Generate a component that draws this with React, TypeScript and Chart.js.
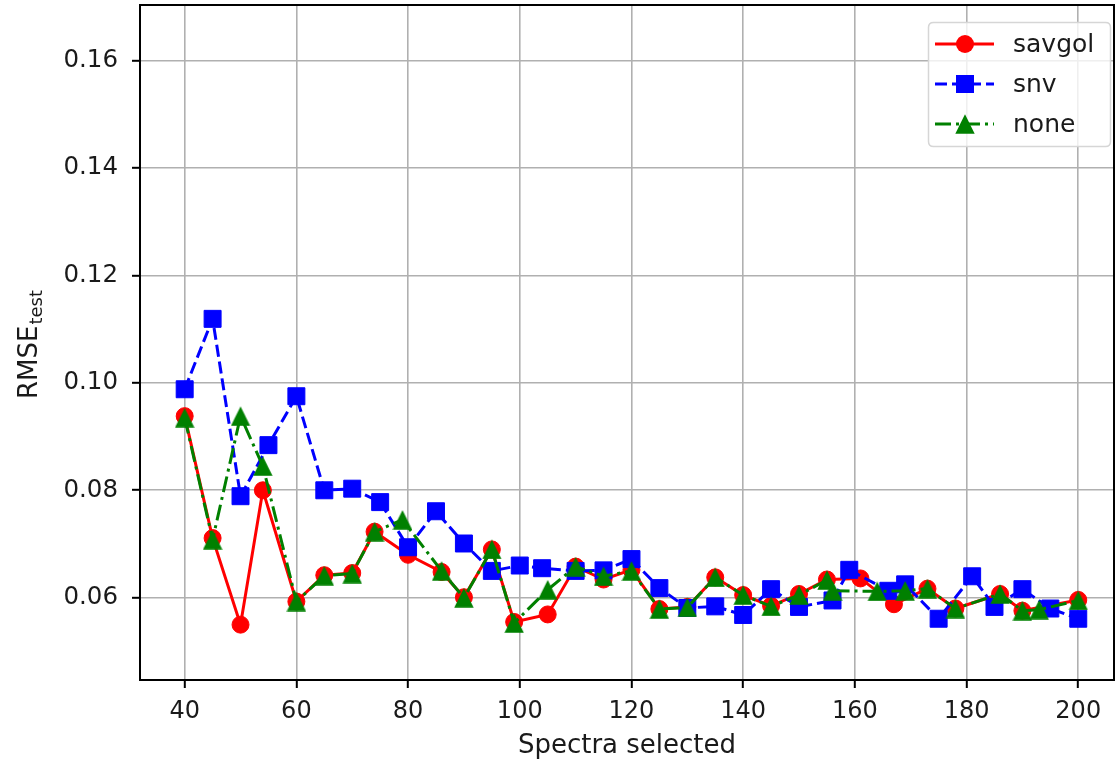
import React, { useEffect, useRef } from "react";
import { Chart, registerables } from "chart.js";

Chart.register(...registerables);

// ---- data ----
const savgolX = [40, 45, 50, 54, 60, 65, 70, 74, 80, 86, 90, 95, 99, 105, 110, 115, 120, 125, 130, 135, 140, 145, 150, 155, 161, 167, 173, 178, 186, 190, 200];
const savgolY = [0.0938, 0.0711, 0.0550, 0.0800, 0.0593, 0.0642, 0.0646, 0.0723, 0.0680, 0.0648, 0.0601, 0.0690, 0.0555, 0.0569, 0.0658, 0.0634, 0.0652, 0.0579, 0.0583, 0.0638, 0.0605, 0.0585, 0.0607, 0.0634, 0.0636, 0.0588, 0.0617, 0.0580, 0.0607, 0.0576, 0.0596];

const snvX = [40, 45, 50, 55, 60, 65, 70, 75, 80, 85, 90, 95, 100, 104, 110, 115, 120, 125, 130, 135, 140, 145, 150, 156, 159, 166, 169, 175, 181, 185, 190, 195, 200];
const snvY = [0.0988, 0.1119, 0.0789, 0.0884, 0.0975, 0.0800, 0.0803, 0.0778, 0.0694, 0.0761, 0.0701, 0.0650, 0.0660, 0.0655, 0.0650, 0.0651, 0.0672, 0.0618, 0.0581, 0.0584, 0.0568, 0.0616, 0.0583, 0.0595, 0.0652, 0.0613, 0.0625, 0.0561, 0.0640, 0.0583, 0.0616, 0.0580, 0.0561];

const noneX = [40, 45, 50, 54, 60, 65, 70, 74, 79, 86, 90, 95, 99, 105, 110, 115, 120, 125, 130, 135, 140, 145, 150, 155, 156, 164, 169, 173, 178, 186, 190, 193, 200];
const noneY = [0.0935, 0.0708, 0.0938, 0.0845, 0.0593, 0.0641, 0.0645, 0.0723, 0.0745, 0.0650, 0.0600, 0.0690, 0.0553, 0.0615, 0.0658, 0.0640, 0.0650, 0.0579, 0.0582, 0.0638, 0.0605, 0.0584, 0.0605, 0.0633, 0.0613, 0.0612, 0.0613, 0.0617, 0.0580, 0.0607, 0.0576, 0.0578, 0.0595];

const seriesNames = ["savgol", "snv", "none"];
const xTicks = [40, 60, 80, 100, 120, 140, 160, 180, 200];
const yTicks = [0.06, 0.08, 0.1, 0.12, 0.14, 0.16];
const xTitle = "Spectra selected";
const yTitleMain = "RMSE";
const yTitleSub = "test";

const FONT = "'DejaVu Sans', sans-serif";
const TEXT = "#1a1a1a";
const RED = "#ff0000";
const BLUE = "#0000ff";
const GREEN = "#008000";
const LW = 3;
const DASH_SNV = [12, 5];
const DASH_NONE = [16, 5, 3, 5];

function makeTriangle(color: string, size: number) {
  const c = document.createElement("canvas");
  c.width = size;
  c.height = size;
  const g = c.getContext("2d")!;
  g.fillStyle = color;
  g.beginPath();
  g.moveTo(size / 2, 0.3);
  g.lineTo(size - 0.3, size - 0.3);
  g.lineTo(0.3, size - 0.3);
  g.closePath();
  g.fill();
  return c;
}

function zeroPad(s: any) {
  s.paddingTop = 0;
  s.paddingBottom = 0;
  s.paddingLeft = 0;
  s.paddingRight = 0;
}

export default function App() {
  const ref = useRef<HTMLCanvasElement>(null);

  useEffect(() => {
    const tri = makeTriangle(GREEN, 20);
    const toPts = (xs: number[], ys: number[]) => xs.map((x, i) => ({ x, y: ys[i] }));

    const framePlugin = {
      id: "frameAndExtras",
      afterDatasetsDraw(chart: any) {
        const { ctx, chartArea: a } = chart;
        ctx.save();
        ctx.strokeStyle = "#000";
        ctx.lineWidth = 2;
        ctx.strokeRect(a.left, a.top, a.right - a.left, a.bottom - a.top);
        ctx.restore();
      },
      afterDraw(chart: any) {
        const ctx = chart.ctx as CanvasRenderingContext2D;
        // y-axis title with subscript
        ctx.save();
        ctx.translate(37, 345);
        ctx.rotate(-Math.PI / 2);
        ctx.fillStyle = TEXT;
        ctx.textBaseline = "alphabetic";
        ctx.textAlign = "left";
        ctx.font = `26px ${FONT}`;
        const w1 = ctx.measureText(yTitleMain).width;
        ctx.font = `18px ${FONT}`;
        const w2 = ctx.measureText(yTitleSub).width;
        const start = -(w1 + w2) / 2;
        ctx.font = `26px ${FONT}`;
        ctx.fillText(yTitleMain, start, 0);
        ctx.font = `18px ${FONT}`;
        ctx.fillText(yTitleSub, start + w1 + 1, 5);
        ctx.restore();

        // legend
        ctx.save();
        const bx = 928.5, by = 22.5, bw = 182, bh = 124, r = 5;
        ctx.beginPath();
        ctx.moveTo(bx + r, by);
        ctx.lineTo(bx + bw - r, by);
        ctx.quadraticCurveTo(bx + bw, by, bx + bw, by + r);
        ctx.lineTo(bx + bw, by + bh - r);
        ctx.quadraticCurveTo(bx + bw, by + bh, bx + bw - r, by + bh);
        ctx.lineTo(bx + r, by + bh);
        ctx.quadraticCurveTo(bx, by + bh, bx, by + bh - r);
        ctx.lineTo(bx, by + r);
        ctx.quadraticCurveTo(bx, by, bx + r, by);
        ctx.closePath();
        ctx.fillStyle = "rgba(255,255,255,0.8)";
        ctx.fill();
        ctx.strokeStyle = "#d6d6d6";
        ctx.lineWidth = 1.5;
        ctx.stroke();

        const colors = [RED, BLUE, GREEN];
        const dashes = [[], DASH_SNV, DASH_NONE];
        seriesNames.forEach((name, i) => {
          const y = 44 + i * 40;
          ctx.strokeStyle = colors[i];
          ctx.lineWidth = LW;
          ctx.setLineDash(dashes[i]);
          ctx.beginPath();
          ctx.moveTo(935, y);
          ctx.lineTo(994, y);
          ctx.stroke();
          ctx.setLineDash([]);
          ctx.fillStyle = colors[i];
          if (i === 0) {
            ctx.beginPath();
            ctx.arc(965, y, 9, 0, Math.PI * 2);
            ctx.fill();
          } else if (i === 1) {
            ctx.fillRect(965 - 9, y - 9, 18, 18);
          } else {
            ctx.drawImage(tri, 965 - 10, y - 10, 20, 20);
          }
          ctx.fillStyle = TEXT;
          ctx.font = `25px ${FONT}`;
          ctx.textBaseline = "middle";
          ctx.textAlign = "left";
          ctx.fillText(name, 1013, y + 1);
        });
        ctx.restore();
      },
    };

    const chart = new Chart(ref.current!, {
      type: "scatter",
      data: {
        datasets: [
          {
            label: seriesNames[0],
            data: toPts(savgolX, savgolY),
            showLine: true,
            borderColor: RED,
            backgroundColor: RED,
            borderWidth: LW,
            pointStyle: "circle",
            pointRadius: 8.5,
            pointBorderWidth: 1,
            pointBorderColor: RED,
            pointBackgroundColor: RED,
            order: 2,
          },
          {
            label: seriesNames[1],
            data: toPts(snvX, snvY),
            showLine: true,
            borderColor: BLUE,
            backgroundColor: BLUE,
            borderWidth: LW,
            borderDash: DASH_SNV,
            pointStyle: "rect",
            pointRadius: 12,
            pointBorderWidth: 1,
            pointBorderColor: BLUE,
            pointBackgroundColor: BLUE,
            order: 1,
          },
          {
            label: seriesNames[2],
            data: toPts(noneX, noneY),
            showLine: true,
            borderColor: GREEN,
            backgroundColor: GREEN,
            borderWidth: LW,
            borderDash: DASH_NONE,
            pointStyle: tri as any,
            pointRadius: 10,
            pointBorderWidth: 0,
            order: 0,
          },
        ] as any,
      },
      options: {
        animation: false,
        responsive: false,
        devicePixelRatio: 1,
        layout: { autoPadding: false, padding: { top: 5, right: 2, left: 0, bottom: 0 } },
        plugins: {
          legend: { display: false },
          tooltip: { enabled: false },
        },
        scales: {
          x: {
            type: "linear",
            min: 32,
            max: 206.4,
            afterBuildTicks: (s: any) => {
              s.ticks = xTicks.map((v) => ({ value: v }));
            },
            afterFit: (s: any) => {
              s.height = 82;
              zeroPad(s);
            },
            ticks: {
              color: TEXT,
              font: { family: FONT, size: 24 },
              padding: 9,
              maxRotation: 0,
              autoSkip: false,
              callback: (v: any) => String(v),
            },
            grid: {
              color: "#b0b0b0",
              lineWidth: 1.6,
              tickColor: "#000",
              tickLength: 8,
              tickWidth: 2,
            },
            border: { display: false },
            title: {
              display: true,
              text: xTitle,
              color: TEXT,
              font: { family: FONT, size: 26 },
              padding: { top: 0, bottom: 0 },
            },
          },
          y: {
            type: "linear",
            min: 0.0447,
            max: 0.1703,
            afterBuildTicks: (s: any) => {
              s.ticks = yTicks.map((v) => ({ value: v }));
            },
            afterFit: (s: any) => {
              s.width = 140;
              zeroPad(s);
            },
            ticks: {
              color: TEXT,
              font: { family: FONT, size: 24.5 },
              padding: 14,
              autoSkip: false,
              callback: (v: any) => Number(v).toFixed(2),
            },
            grid: {
              color: "#b0b0b0",
              lineWidth: 1.6,
              tickColor: "#000",
              tickLength: 8,
              tickWidth: 2,
            },
            border: { display: false },
          },
        },
      },
      plugins: [framePlugin],
    } as any);

    return () => chart.destroy();
  }, []);

  return (
    <div style={{ position: "absolute", left: 0, top: 0, width: 1116, height: 762, background: "#fff" }}>
      <canvas ref={ref} width={1116} height={762} style={{ display: "block", width: 1116, height: 762 }} />
    </div>
  );
}
